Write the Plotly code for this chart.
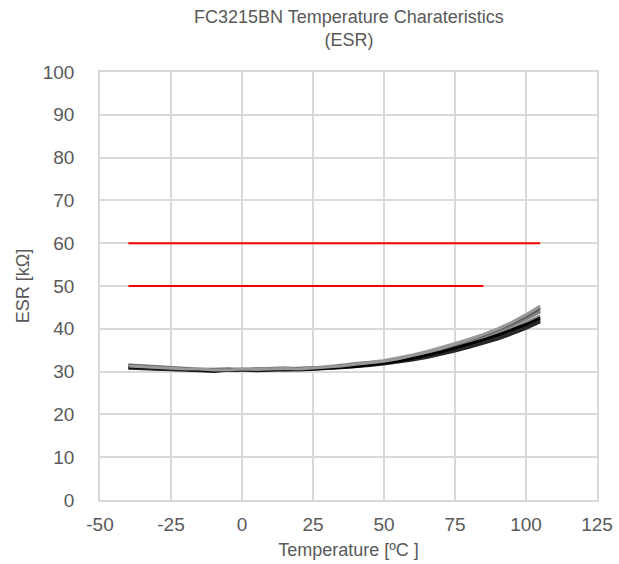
import plotly.graph_objects as go

temps = [-40, -35, -30, -25, -20, -15, -10, -5, 0, 5, 10, 15, 20, 25, 30, 35, 40, 45,
         50, 55, 60, 65, 70, 75, 80, 85, 90, 95, 100, 105]

samples = [
    [31.4, 31.2, 30.9, 30.8, 30.6, 30.5, 30.4, 30.5, 30.6, 30.4, 30.5, 30.6, 30.6, 30.7, 30.9, 31.2, 31.5, 31.8,
     32.2, 32.8, 33.4, 34.1, 34.9, 35.8, 36.8, 37.8, 38.9, 40.1, 41.5, 43.0],
    [31.0, 30.8, 30.6, 30.7, 30.5, 30.3, 30.2, 30.4, 30.3, 30.3, 30.6, 30.4, 30.5, 30.6, 30.8, 31.0, 31.3, 31.6,
     32.0, 32.4, 33.0, 33.6, 34.4, 35.2, 36.1, 37.1, 38.2, 39.3, 40.6, 42.0],
    [31.6, 31.4, 31.1, 30.9, 30.8, 30.6, 30.6, 30.7, 30.5, 30.6, 30.8, 30.7, 30.8, 30.9, 31.2, 31.5, 31.8, 32.2,
     32.6, 33.2, 33.9, 34.7, 35.6, 36.6, 37.6, 38.6, 39.8, 41.1, 42.6, 44.2],
    [30.8, 30.7, 30.5, 30.5, 30.4, 30.2, 30.0, 30.3, 30.4, 30.2, 30.3, 30.5, 30.4, 30.5, 30.7, 30.9, 31.1, 31.4,
     31.8, 32.2, 32.7, 33.3, 34.0, 34.8, 35.7, 36.6, 37.6, 38.8, 40.1, 41.6],
    [31.2, 31.0, 30.8, 30.6, 30.7, 30.4, 30.3, 30.6, 30.4, 30.5, 30.7, 30.9, 30.6, 30.8, 31.0, 31.4, 31.9, 32.1,
     32.4, 33.0, 33.7, 34.4, 35.3, 36.2, 37.2, 38.3, 39.5, 40.8, 42.3, 44.0],
    [31.5, 31.3, 31.0, 30.9, 30.6, 30.5, 30.5, 30.4, 30.5, 30.6, 30.5, 30.6, 30.7, 30.8, 31.0, 31.3, 31.6, 31.9,
     32.3, 32.9, 33.6, 34.4, 35.3, 36.3, 37.4, 38.5, 39.8, 41.2, 42.9, 44.8],
    [31.1, 30.9, 30.7, 30.6, 30.5, 30.4, 30.2, 30.3, 30.5, 30.4, 30.4, 30.5, 30.5, 30.6, 30.8, 31.0, 31.2, 31.6,
     32.0, 32.5, 33.1, 33.8, 34.6, 35.5, 36.4, 37.4, 38.5, 39.7, 41.0, 42.5],
    [31.3, 31.1, 30.9, 30.8, 30.6, 30.6, 30.4, 30.4, 30.6, 30.5, 30.6, 30.7, 30.6, 30.8, 31.0, 31.3, 31.7, 32.0,
     32.4, 33.0, 33.7, 34.5, 35.4, 36.4, 37.5, 38.7, 40.0, 41.5, 43.3, 45.3],
]
sample_colors = ["#8c8c8c", "#3f3f3f", "#a6a6a6", "#262626", "#7f7f7f", "#595959", "#000000", "#999999"]

limit_upper_x = [-40, 105]
limit_upper_y = [60, 60]
limit_lower_x = [-40, 85]
limit_lower_y = [50, 50]

x_ticks = [-50, -25, 0, 25, 50, 75, 100, 125]
x_tick_labels = ["-50", "-25", "0", "25", "50", "75", "100", "125"]
y_ticks = [0, 10, 20, 30, 40, 50, 60, 70, 80, 90, 100]

fig = go.Figure()
for s, c in zip(samples, sample_colors):
    fig.add_trace(go.Scatter(x=temps, y=s, mode="lines", line=dict(color=c, width=3),
                             showlegend=False, hoverinfo="skip"))
fig.add_trace(go.Scatter(x=limit_upper_x, y=limit_upper_y, mode="lines",
                         line=dict(color="#ff0000", width=2), showlegend=False))
fig.add_trace(go.Scatter(x=limit_lower_x, y=limit_lower_y, mode="lines",
                         line=dict(color="#ff0000", width=2), showlegend=False))

font_fam = "Liberation Sans, Arial, sans-serif"
fig.update_layout(
    width=619, height=564,
    margin=dict(l=100, r=22, t=72, b=64, autoexpand=False),
    paper_bgcolor="white", plot_bgcolor="white",
    font=dict(family=font_fam, color="#595959", size=18),
    xaxis=dict(range=[-50, 125], tickvals=x_ticks, ticktext=x_tick_labels,
               showgrid=True, gridcolor="#d9d9d9", gridwidth=1.5,
               zeroline=False, showline=True, linecolor="#d9d9d9", linewidth=1.5, mirror=True,
               ticks="", ticklabelstandoff=6, automargin=False,
               title=dict(text="Temperature [ºC ]", font=dict(size=18), standoff=10),
               tickfont=dict(size=19)),
    yaxis=dict(range=[0, 100], tickvals=y_ticks,
               showgrid=True, gridcolor="#d9d9d9", gridwidth=1.5,
               zeroline=False, showline=True, linecolor="#d9d9d9", linewidth=1.5, mirror=True,
               ticks="", ticklabelstandoff=20, automargin=False,
               title=dict(text="ESR [kΩ]", font=dict(size=18), standoff=8),
               tickfont=dict(size=19)),
    annotations=[dict(text="FC3215BN Temperature Charateristics<br>(ESR)", xref="paper", yref="paper",
                      x=0.5, y=(500 - 5) / 428, xanchor="center", yanchor="top", showarrow=False,
                      font=dict(size=18, color="#595959"))],
)

fig.write_html("out.html", config={"displayModeBar": False},
               post_script="document.body.style.margin='0';document.body.style.padding='0';")
